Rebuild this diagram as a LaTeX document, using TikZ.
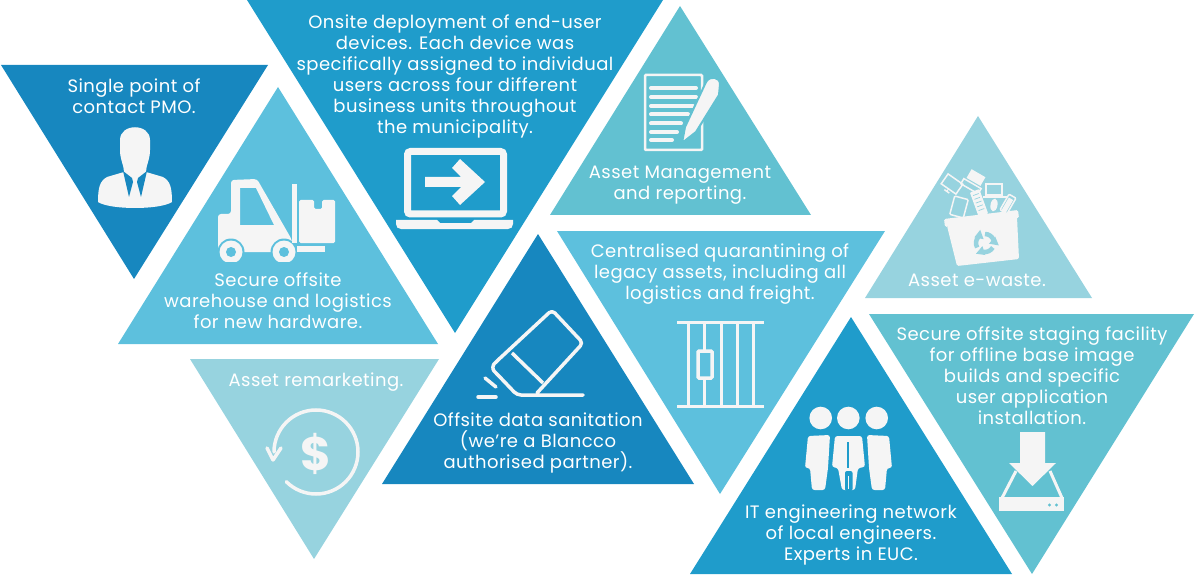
\documentclass[tikz,border=0pt]{standalone}
\usepackage{fontspec}
\setmainfont{Poppins}[LetterSpace=2.5]
\definecolor{darkblue}{HTML}{1787BF}
\definecolor{midblue}{HTML}{1F9CCB}
\definecolor{skyblue}{HTML}{5DC0DD}
\definecolor{tealblue}{HTML}{62C1D1}
\definecolor{paleblue}{HTML}{97D3DF}
\definecolor{iconwhite}{HTML}{F5F5F5}
\begin{document}
\begin{tikzpicture}[x=1pt, y=-1pt,
		lbl/.style={text=white, align=center, inner sep=0pt, font=\fontsize{18}{21}\selectfont},
		icon/.style={fill=iconwhite},
		stroke/.style={draw=iconwhite, line width=#1},
		stroke/.default=2.5pt
	]
	\useasboundingbox (0,0) rectangle (1195,575);

	% ---------------------------
	% Triangles
	% ---------------------------
	\fill[darkblue] (1,65) -- (268,65) -- (134,279) -- cycle;
	\fill[skyblue] (278,87) -- (438,344) -- (118,344) -- cycle;
	\fill[midblue] (247,0) -- (663,0) -- (455,333) -- cycle;
	\fill[tealblue] (680,6) -- (811,215) -- (550,215) -- cycle;
	\fill[skyblue] (557,231) -- (885,231) -- (720,494) -- cycle;
	\fill[darkblue] (538,234) -- (694,484) -- (382,484) -- cycle;
	\fill[paleblue] (190,359) -- (439,359) -- (314,559) -- cycle;
	\fill[paleblue] (978,116) -- (1092,298) -- (865,298) -- cycle;
	\fill[midblue] (851,317) -- (1012,574) -- (690,574) -- cycle;
	\fill[tealblue] (869,314) -- (1194,314) -- (1032,574) -- cycle;

	% ---------------------------
	% Labels
	% ---------------------------
	\node[lbl] (pmo) at (134,96) {Single point of\\contact PMO.};
	\node[lbl] (warehouse) at (278,301) {Secure offsite\\warehouse and logistics\\for new hardware.};
	\node[lbl] (onsite) at (455,76) {Onsite deployment of end-user\\devices. Each device was\\specifically assigned to individual\\users across four different\\business units throughout\\the municipality.};
	\node[lbl] (reporting) at (680,185) {Asset Management\\and reporting.};
	\node[lbl] (quarantine) at (720,274) {Centralised quarantining of\\legacy assets, including all\\logistics and freight.};
	\node[lbl] (sanitation) at (538,443) {Offsite data sanitation\\(we’re a Blancco\\authorised partner).};
	\node[lbl] (remarketing) at (316,382) {Asset remarketing.};
	\node[lbl] (ewaste) at (977,280) {Asset e-waste.};
	\node[lbl] (engineers) at (851,535) {IT engineering network\\of local engineers.\\Experts in EUC.};
	\node[lbl] (staging) at (1032,376) {Secure offsite staging facility\\for offline base image\\builds and specific\\user application\\installation.};

	% ---------------------------
	% Person
	% ---------------------------
	\fill[icon] (120,140) .. controls (120,123) and (150,123) .. (150,140)
		-- (150,150) .. controls (150,160) and (146,165) .. (146,172)
		-- (163,177) .. controls (170,181) and (172,187) .. (172,202)
		.. controls (160,210) and (110,210) .. (98,202)
		.. controls (98,187) and (100,181) .. (107,177)
		-- (124,172) .. controls (124,165) and (120,160) .. (120,150) -- cycle;
	\fill[darkblue] (123,171) -- (129,197) -- (133,182) -- (132,178) -- cycle;
	\fill[darkblue] (147,171) -- (141,197) -- (137,182) -- (138,178) -- cycle;

	% ---------------------------
	% Forklift
	% ---------------------------
	\fill[icon, even odd rule] (218,220) [rounded corners=3pt] -- (218,214) -- (231,214) -- (231,180) -- (257,179) -- (292,240) -- (292,252) [sharp corners] -- (218,252) -- cycle
		(240,188) -- (256,188) -- (274,225) -- (240,225) -- cycle;
	\foreach \wx in {231,284} {
		\fill[skyblue] (\wx,252) circle (13.5pt);
		\fill[icon] (\wx,252) circle (11.5pt);
		\fill[skyblue] (\wx,252) circle (5pt);
	}
	\fill[skyblue] (215,261.5) rectangle (300,268);
	\fill[icon] (292,184) rectangle (297,243);
	\fill[icon] (297,246) rectangle (325,252);
	\fill[icon, rounded corners=1.5pt] (299,200) -- (314,200) -- (314,209) -- (322,209) -- (322,200) -- (335,200) -- (335,243) -- (299,243) -- cycle;

	% ---------------------------
	% Laptop
	% ---------------------------
	\draw[stroke=7pt, rounded corners=3pt] (407.5,151.5) rectangle (503.5,214);
	\fill[icon] (396,220) -- (437,220) -- (440,223) -- (471,223) -- (474,220) -- (513,220) -- (513,224) .. controls (513,227) and (511,229) .. (508,229) -- (401,229) .. controls (398,229) and (396,227) .. (396,224) -- cycle;
	\fill[icon] (425,177) -- (461,177) -- (452,168) -- (460,159) -- (485,182) -- (460,205) -- (452,196) -- (461,187) -- (425,187) -- cycle;

	% ---------------------------
	% Document and pen
	% ---------------------------
	\draw[stroke=2.5pt, rounded corners=1pt] (645,75) rectangle (702,150);
	\foreach \ly/\lx in {88/696,97/696,106/693,114.5/688,123.5/681,132/677,140/672} {
		\draw[stroke=4pt, line cap=round] (651,\ly) -- (\lx,\ly);
	}
	\fill[icon, draw=tealblue, line width=2pt] (682,143) -- (685,127) -- (706,82) .. controls (710,75) and (720,77) .. (720,84) -- (719,95) -- (696,132) -- cycle;

	% ---------------------------
	% Eraser
	% ---------------------------
	\draw[stroke=3.5pt, line cap=round, line join=round, rounded corners=4pt] (583,395) -- (517,395) -- (497,374) .. controls (492,369) and (493,365) .. (497,361) -- (552,310) -- (583,343) -- (537,393);
	\draw[stroke=3.5pt] (512,353) -- (543,383);
	\draw[stroke=3.5pt, line cap=round] (485,378) -- (496,387);
	\draw[stroke=3.5pt, line cap=round] (478,397) -- (496,397);

	% ---------------------------
	% Bars
	% ---------------------------
	\draw[stroke=3pt] (677,322) -- (764,322);
	\draw[stroke=3pt] (677,406) -- (764,406);
	\foreach \bx in {688,704,721,737,753} {
		\draw[stroke=3pt] (\bx,322) -- (\bx,406);
	}
	\draw[stroke=3.5pt, fill=skyblue, rounded corners=1pt] (698,351) rectangle (712,378);

	% ---------------------------
	% Dollar with arrow
	% ---------------------------
	\draw[stroke=3.5pt, line cap=round] (274,452) arc (180:-135:42pt);
	\draw[stroke=3.5pt, line cap=round, line join=round] (267,448) -- (273,460) -- (281,448);
	\node[text=iconwhite, inner sep=0pt, font=\fontsize{47}{47}\selectfont\bfseries] (dollar) at (316,454) {\$};

	% ---------------------------
	% Recycle bin with devices
	% ---------------------------
	\fill[icon, rounded corners=1.5pt] (944,219) -- (1018,210) -- (1019,218) -- (945,227) -- cycle;
	\fill[icon, rounded corners=1.5pt] (947,226) -- (1017,217) -- (1019,259) -- (957,266) -- cycle;
	\begin{scope}[shift={(985,243)}]
		\foreach \ang in {20,140,260} {
			\begin{scope}[rotate=\ang]
				\draw[paleblue, line width=4.5pt] (9,0) arc (0:70:9pt);
				\fill[paleblue] (0,-4) -- (0,-14) -- (-8,-9) -- cycle;
			\end{scope}
		}
	\end{scope}
	\begin{scope}[shift={(952,184)}, rotate=-35]
		\draw[stroke=1.5pt] (-9,-6) rectangle (9,6);
		\draw[stroke=1.5pt] (-3,9) -- (3,9);
		\draw[stroke=1pt] (0,6) -- (0,9);
	\end{scope}
	\begin{scope}[shift={(974,181)}, rotate=-30]
		\fill[icon] (-8,-9) rectangle (8,1);
		\draw[stroke=1.5pt] (-10,3) rectangle (10,9);
	\end{scope}
	\draw[stroke=1.2pt] (986,184) rectangle (1002,195);
	\draw[stroke=1.5pt] (983,197) -- (1007,197);
	\begin{scope}[shift={(959,207)}, rotate=-15]
		\draw[stroke=1.5pt, rounded corners=1pt] (-7,-9.5) rectangle (7,9.5);
	\end{scope}
	\begin{scope}[shift={(979,203)}, rotate=20]
		\fill[icon, rounded corners=1pt] (-5,-13) rectangle (5,13);
		\foreach \ky in {-9,-5,-1,3,7} {
			\draw[paleblue, line width=0.7pt] (-3,\ky) -- (3,\ky);
		}
	\end{scope}
	\fill[icon, rotate around={-10:(994,205)}] (994,205) ellipse (3.5pt and 6.5pt);
	\begin{scope}[shift={(1008,204)}, rotate=-30]
		\draw[stroke=1.5pt, fill=paleblue, rounded corners=1pt] (-4,-9) rectangle (4,9);
		\fill[icon] (-2.5,-6) rectangle (2.5,9);
	\end{scope}

	% ---------------------------
	% Three engineers
	% ---------------------------
	\foreach \hx in {820.7,848.3,876.7} {
		\fill[icon] (\hx,418) circle (11.3pt);
	}
	\fill[icon, rounded corners=2.5pt] (808,436) -- (830,435) -- (828,468) -- (825,490) -- (812,490) -- (810,468) -- (805,468) -- cycle;
	\fill[icon, rounded corners=2.5pt] (889,436) -- (867,435) -- (869,468) -- (872,490) -- (885,490) -- (887,468) -- (892,468) -- cycle;
	\fill[icon, rounded corners=2.5pt] (835,436) -- (862,436) -- (865,467) -- (858,468) -- (855,490) -- (842,490) -- (838,468) -- (832,467) -- cycle;
	\draw[midblue, line width=2pt] (848.3,442) -- (848.3,468);
	\fill[midblue, rounded corners=2pt] (845,471) rectangle (852.5,491);
	\draw[draw=iconwhite, line width=1pt] (848.7,476) -- (848.7,489);

	% ---------------------------
	% Download tray
	% ---------------------------
	\fill[icon] (1020,432) -- (1045,432) -- (1045,463) -- (1056,463) -- (1032.5,486) -- (1009,463) -- (1020,463) -- cycle;
	\draw[stroke=3pt, line join=round] (1016,471) -- (1002,498);
	\draw[stroke=3pt, line join=round] (1050,471) -- (1062,498);
	\fill[icon] (999,497) rectangle (1064,511);
	\foreach \dx in {1049.5,1056.5} {
		\fill[tealblue] (\dx,505) circle (1.6pt);
	}
\end{tikzpicture}
\end{document}
